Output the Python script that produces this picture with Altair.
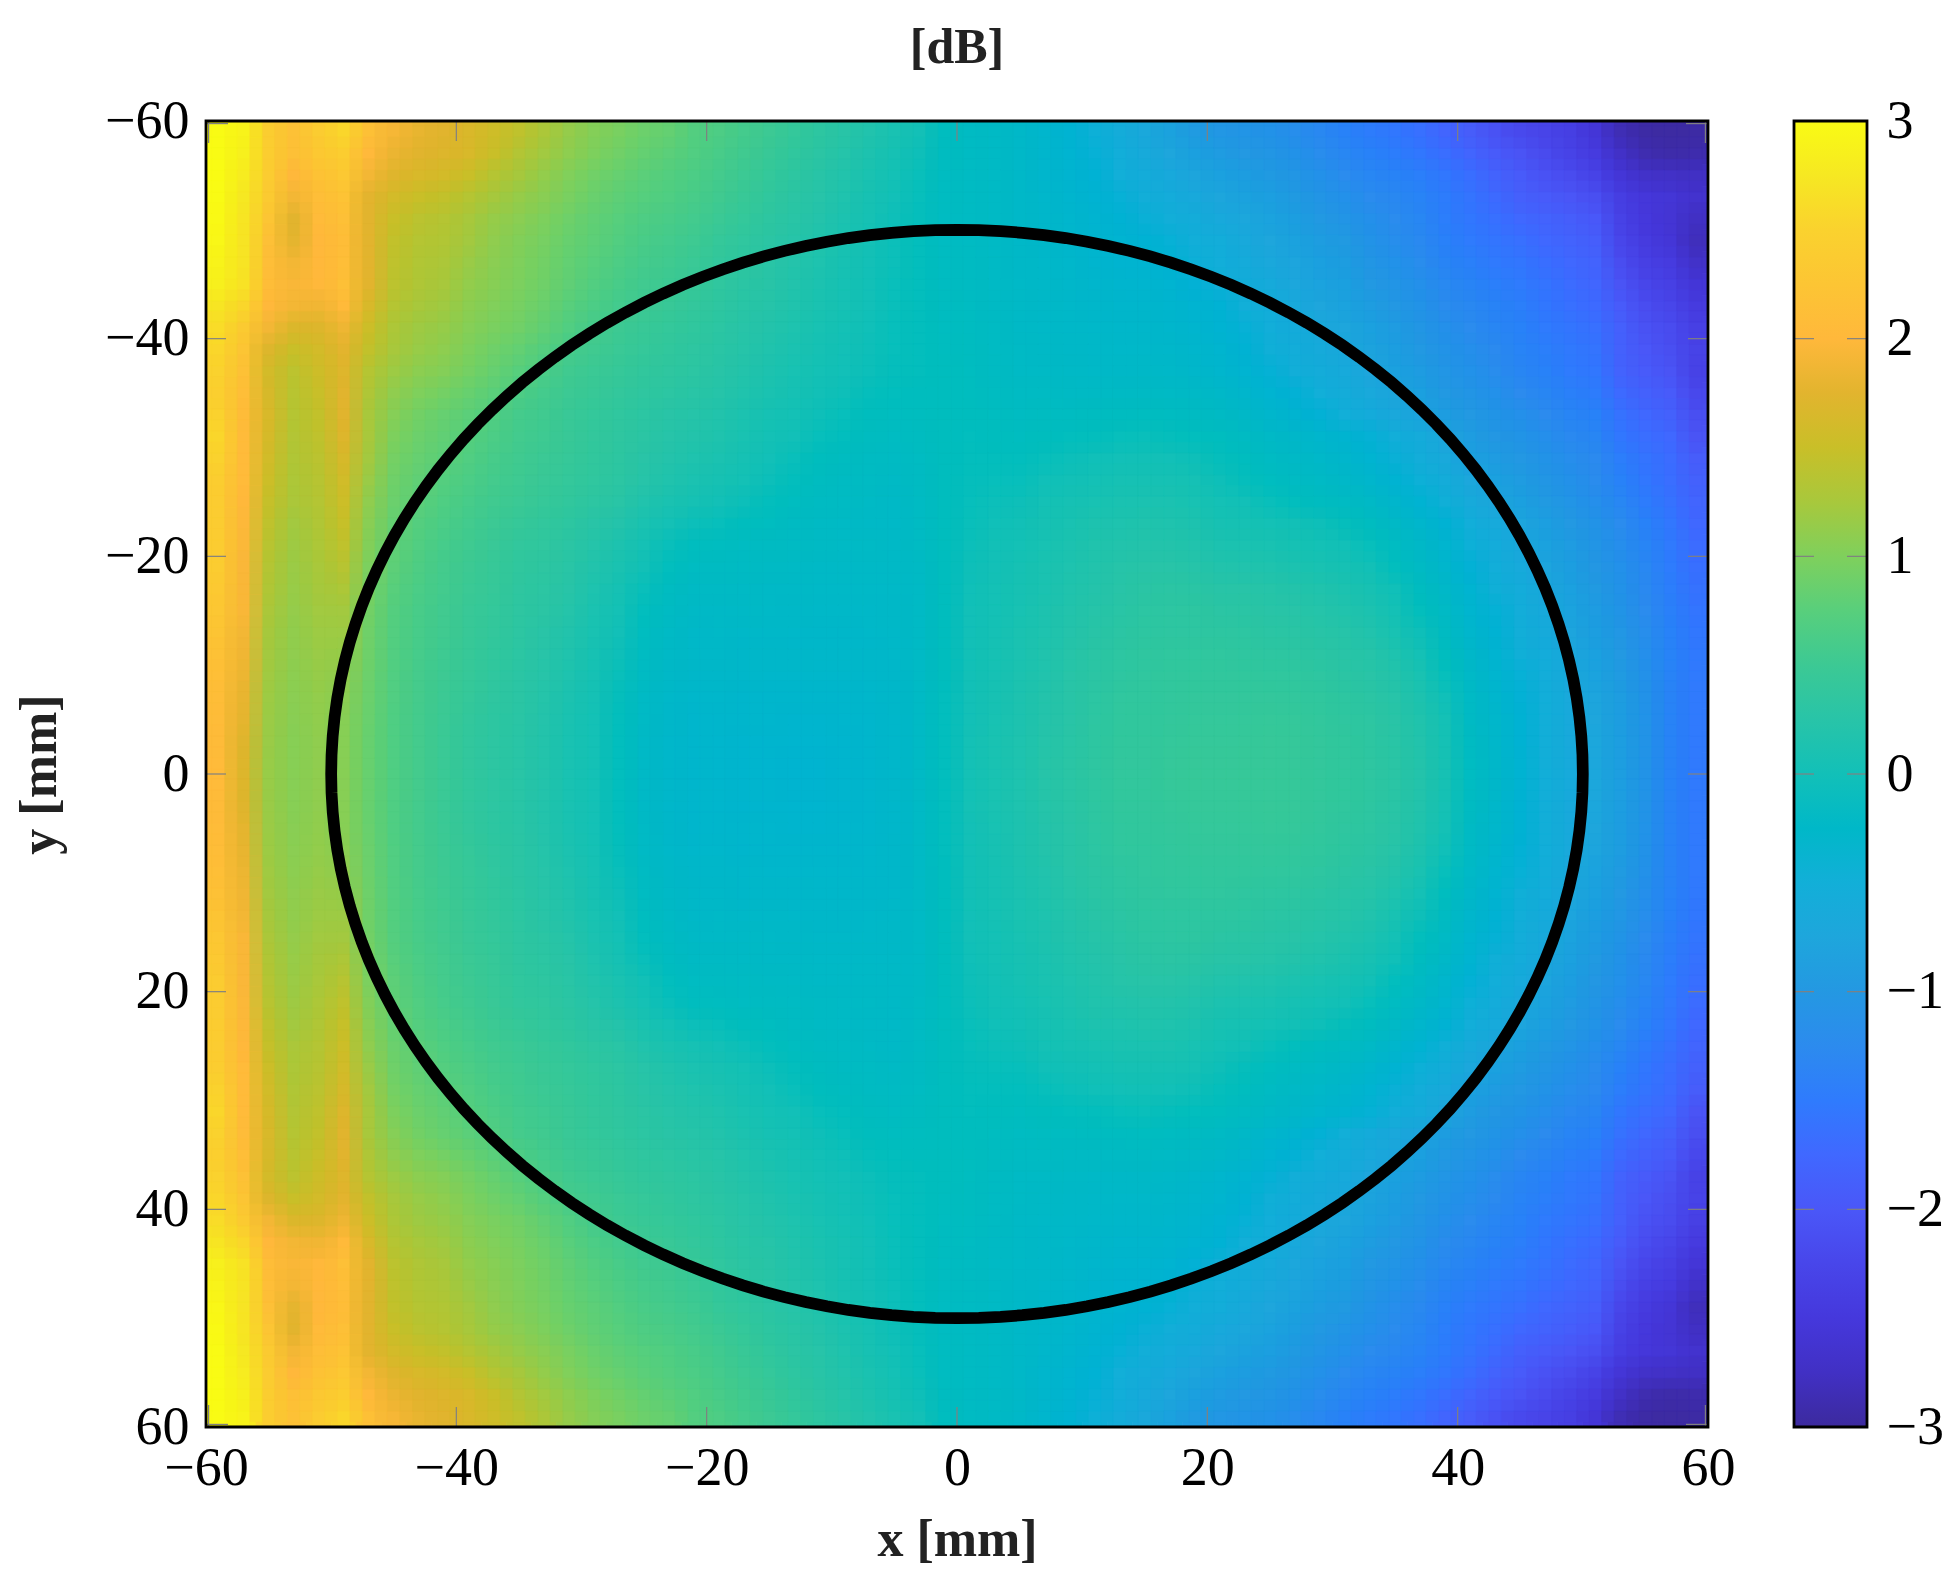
import math
import altair as alt
import pandas as pd

FONT = "Liberation Serif"
W, H = 1502, 1306
CB_W = 73
TICK = 20
GRAY = "#808080"

# colour map
stop_values = [-3, -2.75, -2.5, -2.25, -2, -1.75, -1.5, -1.25, -1, -0.75, -0.5, -0.25, 0, 0.25, 0.5, 0.75, 1, 1.25, 1.5, 1.75, 2, 2.25, 2.5, 2.75, 3]
stop_colors = ["#3c2a9e", "#4130c4", "#4538dc", "#4846ea", "#4a57f8", "#4068ff", "#2f7bfd", "#2c8bee", "#2498e2", "#1ea6dc", "#12afd8", "#00b8c8", "#12c0b8", "#28c4a8", "#3cc994", "#58cf7c", "#7fd05c", "#a8c83c", "#c9bf28", "#e2b42e", "#ffb83b", "#fcc534", "#fad22e", "#f6e822", "#f9fb14"]

# cell edges, mm
cell_mm = 2
x_edges = list(range(-60, 60, cell_mm))
y_edges_top = list(range(-60, 0, cell_mm))

# hundredths of a dB, rows from y = -60 down to y = 0 (the map mirrors about y = 0)
# x from -60 to -40
block_a = [
[300,290,240,218,238,255,216,192,180,174],
[300,285,240,215,231,241,201,183,174,170],
[300,280,238,200,220,230,190,172,165,160],
[300,275,235,190,211,221,176,160,150,145],
[298,272,225,175,205,215,175,150,139,135],
[295,270,215,178,200,210,175,145,135,132],
[290,270,212,190,200,212,175,142,132,128],
[285,268,210,195,200,215,175,140,130,125],
[272,255,200,190,188,203,165,135,125,120],
[262,235,190,168,170,185,153,129,119,114],
[255,225,170,150,160,176,145,125,115,109],
[250,218,160,140,154,171,135,118,108,103],
[245,212,163,137,149,174,130,110,100,93],
[250,208,165,135,145,174,125,104,92,84],
[255,205,162,133,142,170,125,99,88,81],
[250,205,158,131,139,163,122,94,84,77],
[240,205,153,129,136,158,116,90,80,72],
[238,200,147,127,134,153,110,87,77,68],
[238,198,142,122,131,148,106,83,72,64],
[238,197,137,119,129,142,102,80,69,60],
[238,196,134,117,126,136,98,78,67,58],
[232,195,131,115,124,129,95,75,64,57],
[228,195,127,113,121,122,92,72,62,55],
[224,190,124,111,118,118,90,71,61,54],
[218,187,122,110,116,114,89,70,60,52],
[214,184,120,108,114,110,88,69,59,51],
[210,180,118,107,112,107,87,69,59,50],
[208,178,117,106,111,105,86,68,58,49],
[206,172,116,105,110,105,85,68,58,48],
[205,170,115,105,110,105,85,68,58,48],
]
# x from -40 to -20
block_b = [
[166,155,142,128,113,103,96,88,83,71],
[165,150,133,121,109,99,91,83,77,69],
[150,135,124,112,101,91,84,77,71,65],
[135,124,114,106,96,86,79,73,68,62],
[125,114,107,99,89,81,74,67,63,57],
[122,110,102,95,85,78,70,63,58,52],
[116,107,100,92,82,74,66,59,54,48],
[112,105,98,90,80,70,62,55,50,45],
[108,101,95,86,75,65,57,51,46,41],
[104,97,91,81,69,59,51,46,42,38],
[99,90,82,72,60,54,48,43,39,35],
[94,84,74,64,54,49,44,39,36,32],
[85,76,66,58,50,46,41,36,32,28],
[77,69,59,54,47,42,37,32,27,23],
[73,65,57,52,46,41,36,30,24,20],
[69,61,54,49,44,39,34,27,21,16],
[65,58,52,47,42,37,32,24,17,12],
[61,54,49,44,39,33,28,18,11,6],
[57,50,44,40,34,27,21,11,3,-3],
[53,47,40,37,30,22,14,5,-4,-10],
[51,45,38,35,28,19,11,1,-8,-14],
[49,44,36,32,25,15,7,-4,-13,-18],
[47,42,35,30,22,12,3,-8,-17,-22],
[46,41,33,27,19,10,0,-11,-20,-25],
[45,39,32,25,17,8,-2,-14,-22,-25],
[44,37,31,24,15,6,-4,-16,-24,-27],
[43,36,30,22,13,5,-6,-19,-26,-29],
[41,34,29,21,11,4,-7,-20,-27,-30],
[40,33,28,20,10,3,-8,-22,-28,-31],
[40,33,28,20,10,3,-8,-22,-28,-31],
]
# x from -20 to 0
block_c = [
[66,58,50,42,34,26,18,10,2,-10],
[62,54,46,38,30,22,14,6,-2,-12],
[58,50,42,34,26,19,11,3,-4,-13],
[54,46,38,31,24,16,8,0,-5,-13],
[49,42,34,28,21,13,6,-2,-6,-14],
[43,37,30,24,17,10,3,-3,-7,-14],
[40,34,28,21,15,8,2,-3,-7,-13],
[37,31,26,19,13,7,1,-4,-7,-13],
[35,28,23,17,11,6,0,-4,-7,-12],
[32,25,20,15,9,4,-1,-5,-7,-11],
[29,23,17,12,6,2,-2,-5,-7,-10],
[26,20,14,9,4,0,-3,-6,-7,-9],
[23,17,11,6,1,-2,-6,-8,-9,-9],
[19,13,7,3,-2,-5,-9,-11,-10,-9],
[16,10,4,0,-5,-8,-12,-14,-12,-9],
[12,6,0,-4,-9,-12,-15,-17,-14,-9],
[8,3,-3,-7,-12,-15,-17,-19,-15,-9],
[2,-3,-7,-11,-15,-17,-19,-21,-17,-9],
[-5,-9,-11,-15,-18,-20,-21,-23,-17,-9],
[-11,-14,-15,-17,-18,-20,-20,-21,-17,-9],
[-15,-17,-18,-19,-21,-22,-22,-22,-18,-9],
[-18,-20,-21,-21,-23,-23,-23,-23,-19,-9],
[-21,-22,-23,-24,-25,-25,-25,-24,-19,-9],
[-23,-25,-25,-26,-27,-27,-26,-25,-19,-9],
[-25,-27,-27,-27,-28,-28,-27,-26,-20,-9],
[-27,-28,-29,-29,-29,-29,-28,-27,-20,-9],
[-29,-30,-31,-31,-31,-31,-29,-27,-20,-8],
[-31,-31,-32,-33,-33,-32,-30,-28,-20,-8],
[-32,-33,-34,-35,-35,-33,-31,-28,-20,-8],
[-32,-34,-35,-36,-36,-34,-31,-28,-20,-8],
]
# x from 0 to 20
block_d = [
[-16,-20,-25,-32,-40,-48,-58,-70,-82,-95],
[-16,-20,-25,-31,-38,-46,-54,-64,-75,-86],
[-16,-20,-25,-30,-36,-43,-50,-58,-66,-76],
[-16,-20,-25,-29,-34,-40,-46,-52,-59,-66],
[-16,-20,-25,-28,-32,-37,-42,-47,-52,-58],
[-16,-20,-25,-27,-31,-35,-38,-41,-46,-52],
[-15,-19,-24,-26,-29,-33,-36,-38,-42,-48],
[-15,-19,-23,-25,-28,-31,-33,-35,-38,-44],
[-14,-18,-22,-24,-26,-28,-30,-31,-33,-38],
[-13,-17,-21,-23,-25,-26,-28,-28,-30,-34],
[-12,-16,-20,-22,-24,-25,-26,-26,-28,-31],
[-11,-15,-19,-20,-22,-23,-24,-24,-25,-28],
[-10,-13,-16,-17,-18,-18,-18,-18,-20,-22],
[-9,-11,-14,-13,-13,-12,-12,-11,-13,-15],
[-8,-9,-11,-9,-8,-7,-5,-4,-6,-8],
[-7,-7,-8,-5,-3,-1,0,1,0,-2],
[-6,-5,-5,-1,1,4,6,7,7,5],
[-5,-3,-2,3,6,9,11,12,12,9],
[-4,-1,1,6,10,14,15,17,16,14],
[-3,1,4,9,13,17,19,21,20,18],
[-2,2,6,11,15,19,23,25,25,23],
[-1,3,8,12,17,21,25,29,30,29],
[0,4,9,14,19,23,28,32,33,34],
[0,5,11,15,21,26,31,34,35,35],
[1,6,12,17,23,29,33,36,37,37],
[1,7,13,18,25,31,35,37,39,39],
[2,8,14,20,26,32,37,38,40,41],
[2,9,14,21,27,33,38,39,41,42],
[3,10,15,22,28,34,39,40,42,43],
[3,10,15,23,29,35,40,40,43,44],
]
# x from 20 to 40
block_e = [
[-103,-107,-112,-120,-130,-140,-148,-155,-165,-180],
[-94,-99,-104,-112,-122,-132,-140,-147,-155,-168],
[-84,-91,-96,-104,-114,-124,-132,-138,-145,-155],
[-74,-82,-88,-96,-106,-115,-124,-130,-137,-148],
[-66,-73,-81,-89,-98,-107,-116,-124,-132,-146],
[-57,-66,-75,-83,-92,-97,-110,-120,-128,-142],
[-53,-61,-69,-77,-86,-91,-104,-113,-122,-136],
[-49,-56,-63,-72,-81,-86,-98,-107,-116,-129],
[-43,-50,-57,-66,-75,-81,-92,-101,-110,-123],
[-39,-46,-53,-60,-68,-75,-85,-94,-104,-116],
[-35,-42,-49,-56,-63,-70,-80,-89,-98,-110],
[-32,-38,-45,-52,-58,-65,-75,-84,-93,-105],
[-25,-31,-38,-44,-51,-58,-68,-76,-86,-98],
[-18,-24,-31,-37,-44,-50,-60,-69,-78,-91],
[-10,-16,-22,-27,-32,-37,-45,-53,-62,-75],
[-6,-10,-16,-21,-26,-31,-38,-47,-56,-68],
[-2,-6,-11,-16,-20,-25,-31,-39,-48,-58],
[3,0,-4,-8,-12,-16,-22,-30,-39,-49],
[8,6,4,1,-2,-6,-12,-21,-30,-41],
[13,12,10,7,4,0,-5,-14,-24,-35],
[19,18,16,13,10,6,1,-8,-18,-30],
[26,25,23,20,17,13,8,-1,-12,-25],
[31,29,27,25,22,18,13,4,-7,-20],
[34,33,31,29,26,23,18,9,-2,-15],
[37,36,35,33,31,27,23,15,4,-10],
[39,39,38,37,35,31,27,20,10,-5],
[41,41,41,40,38,34,31,24,14,-1],
[42,42,43,42,40,36,33,27,17,3],
[43,43,44,43,41,38,34,28,19,5],
[44,44,44,43,41,38,35,29,20,6],
]
# x from 40 to 60
block_f = [
[-192,-208,-220,-228,-238,-255,-285,-295,-297,-296],
[-180,-195,-205,-218,-230,-245,-272,-288,-292,-290],
[-167,-182,-195,-207,-217,-230,-255,-270,-272,-275],
[-160,-172,-187,-195,-202,-212,-240,-252,-256,-265],
[-155,-165,-175,-183,-190,-198,-232,-250,-258,-275],
[-150,-158,-165,-175,-183,-190,-225,-245,-255,-280],
[-143,-152,-157,-167,-175,-182,-215,-235,-245,-270],
[-136,-145,-150,-160,-170,-178,-205,-225,-235,-255],
[-130,-138,-145,-155,-165,-172,-195,-215,-225,-245],
[-124,-133,-140,-150,-158,-165,-187,-207,-217,-235],
[-118,-127,-137,-145,-153,-160,-185,-200,-212,-230],
[-113,-122,-133,-140,-150,-155,-182,-195,-205,-232],
[-106,-115,-125,-133,-143,-148,-172,-185,-195,-222],
[-99,-108,-116,-125,-135,-140,-162,-175,-185,-212],
[-92,-102,-108,-118,-128,-133,-155,-168,-175,-205],
[-84,-94,-101,-110,-120,-126,-146,-160,-170,-192],
[-73,-84,-94,-104,-114,-123,-140,-155,-168,-185],
[-64,-75,-86,-97,-107,-117,-132,-148,-162,-180],
[-54,-65,-77,-88,-99,-110,-124,-140,-156,-175],
[-48,-59,-70,-82,-94,-106,-119,-135,-152,-170],
[-44,-54,-65,-77,-89,-102,-115,-131,-149,-166],
[-38,-49,-59,-71,-84,-97,-112,-128,-146,-162],
[-35,-45,-55,-67,-81,-93,-108,-124,-143,-158],
[-31,-41,-52,-63,-77,-89,-103,-120,-140,-155],
[-27,-38,-49,-59,-73,-85,-99,-117,-139,-153],
[-23,-35,-46,-56,-70,-81,-95,-114,-138,-152],
[-20,-32,-44,-54,-68,-77,-92,-112,-138,-152],
[-18,-29,-42,-52,-67,-75,-91,-111,-138,-152],
[-15,-28,-41,-52,-66,-73,-90,-110,-138,-152],
[-14,-27,-40,-52,-65,-72,-90,-110,-138,-152],
]

x_ticks = [-60, -40, -20, 0, 20, 40, 60]
inner_ticks = [-40, -20, 0, 20, 40]
cb_ticks = [-3, -2, -1, 0, 1, 2, 3]
cb_inner = [-2, -1, 0, 1, 2]

records = []
for i, ye in enumerate(y_edges_top):
    row = block_a[i] + block_b[i] + block_c[i] + block_d[i] + block_e[i] + block_f[i]
    assert len(row) == len(x_edges)
    for xe, v in zip(x_edges, row):
        records.append(dict(x0=xe, y0=ye, v=v / 100))
        records.append(dict(x0=xe, y0=-ye - cell_mm, v=v / 100))
cells = pd.DataFrame(records)

angles = list(range(0, 361, 2))
circle = pd.DataFrame({
    "a": angles,
    "x": [50 * math.cos(math.radians(a)) for a in angles],
    "y": [50 * math.sin(math.radians(a)) for a in angles],
})
inner_df = pd.DataFrame({"t": inner_ticks})
cb_tick_df = pd.DataFrame({"t": cb_inner})
frame_df = pd.DataFrame({"f": [0]})

color_scale = alt.Scale(domain=stop_values, range=stop_colors, clamp=True)
x_scale = alt.Scale(domain=[-60, 60], nice=False, zero=False)
y_scale = alt.Scale(domain=[-60, 60], nice=False, zero=False, reverse=True)
cb_scale = alt.Scale(domain=[-3, 3], nice=False, zero=False)

axis_common = dict(domain=False, ticks=False, grid=False, labelFont=FONT, labelFontSize=54, labelColor="black",
                   labelFlush=False, labelOverlap=False, labelBound=False,
                   titleFont=FONT, titleFontSize=52, titleFontWeight="bold", titleColor="#222222", values=x_ticks)
x_axis = alt.Axis(title="x [mm]", labelPadding=14, titlePadding=19, **axis_common)
y_axis = alt.Axis(title="y [mm]", labelPadding=17, titlePadding=38, **axis_common)

def heat_layer(dx, dy, opacity):
    """One drawing of the cells, nudged by (dx, dy) mm; stacked drawings blend the cell edges as shaded rendering does."""
    return alt.Chart(cells).transform_calculate(
        xa=f"datum.x0 + {dx}", xb=f"datum.x0 + {cell_mm} + {dx}",
        ya=f"datum.y0 + {dy}", yb=f"datum.y0 + {cell_mm} + {dy}",
    ).mark_rect(opacity=opacity, clip=True, strokeWidth=0.6).encode(
        x=alt.X("xa:Q", scale=x_scale, axis=x_axis),
        x2="xb:Q",
        y=alt.Y("ya:Q", scale=y_scale, axis=y_axis),
        y2="yb:Q",
        color=alt.Color("v:Q", scale=color_scale, legend=None),
        stroke=alt.Stroke("v:Q", scale=color_scale, legend=None),
    )

heat = [
    heat_layer(0, 0, 1),
    heat_layer(-0.5, -0.5, 1),
    heat_layer(0.5, -0.5, 1 / 2),
    heat_layer(-0.5, 0.5, 1 / 3),
    heat_layer(0.5, 0.5, 1 / 4),
]
ring = alt.Chart(circle).mark_line(color="black", strokeWidth=11.7).encode(
    x=alt.X("x:Q", scale=x_scale), y=alt.Y("y:Q", scale=y_scale), order="a:Q")

tick_style = dict(color=GRAY, strokeWidth=1.2)
def hrule(y, a, b):
    return alt.Chart(frame_df).mark_rule(**tick_style).encode(y=alt.value(y), x=alt.value(a), x2=alt.value(b))
def vrule(x, a, b):
    return alt.Chart(frame_df).mark_rule(**tick_style).encode(x=alt.value(x), y=alt.value(a), y2=alt.value(b))

tick_left = alt.Chart(inner_df).mark_rule(**tick_style).encode(y=alt.Y("t:Q", scale=y_scale), x=alt.value(0), x2=alt.value(TICK))
tick_right = alt.Chart(inner_df).mark_rule(**tick_style).encode(y=alt.Y("t:Q", scale=y_scale), x=alt.value(W), x2=alt.value(W - TICK))
tick_top = alt.Chart(inner_df).mark_rule(**tick_style).encode(x=alt.X("t:Q", scale=x_scale), y=alt.value(0), y2=alt.value(TICK))
tick_bottom = alt.Chart(inner_df).mark_rule(**tick_style).encode(x=alt.X("t:Q", scale=x_scale), y=alt.value(H), y2=alt.value(H - TICK))
corner_ticks = [
    hrule(2.6, 1, TICK + 2), vrule(2.6, 1, TICK + 2),
    hrule(2.6, W - 1, W - TICK - 2), vrule(W - 2.6, 1, TICK + 2),
    hrule(H - 2.6, 1, TICK + 2), vrule(2.6, H - 1, H - TICK - 2),
    hrule(H - 2.6, W - 1, W - TICK - 2), vrule(W - 2.6, H - 1, H - TICK - 2),
]

frame = alt.Chart(frame_df).mark_rect(fill=None, stroke="black", strokeWidth=2.8).encode(
    x=alt.value(0), x2=alt.value(W), y=alt.value(0), y2=alt.value(H))

main = alt.layer(*heat, ring, tick_left, tick_right, tick_top, tick_bottom, *corner_ticks, frame).properties(
    width=W, height=H,
    title=alt.TitleParams("[dB]", font=FONT, fontSize=50, fontWeight="bold", color="#222222", offset=21, anchor="middle"),
)

cb_grad = alt.Gradient(gradient="linear", x1=0, y1=1, x2=0, y2=0,
                       stops=[alt.GradientStop(offset=(v + 3) / 6, color=c) for v, c in zip(stop_values, stop_colors)])
cb_rect = alt.Chart(frame_df).mark_rect(fill=cb_grad).encode(
    x=alt.value(0), x2=alt.value(CB_W), y=alt.value(0), y2=alt.value(H))
cb_tick_l = alt.Chart(cb_tick_df).mark_rule(**tick_style).encode(
    y=alt.Y("t:Q", scale=cb_scale, axis=alt.Axis(orient="right", title=None, values=cb_ticks, domain=False, ticks=False, grid=False, format="d",
                                                 labelFont=FONT, labelFontSize=54, labelColor="black", labelPadding=19, labelFlush=False, labelOverlap=False, labelBound=False)),
    x=alt.value(0), x2=alt.value(TICK))
cb_tick_r = alt.Chart(cb_tick_df).mark_rule(**tick_style).encode(y=alt.Y("t:Q", scale=cb_scale), x=alt.value(CB_W), x2=alt.value(CB_W - TICK))
cb_frame = alt.Chart(frame_df).mark_rect(fill=None, stroke="black", strokeWidth=2.8).encode(
    x=alt.value(0), x2=alt.value(CB_W), y=alt.value(0), y2=alt.value(H))
bar = alt.layer(cb_rect, cb_tick_l, cb_tick_r, cb_frame).properties(width=CB_W, height=H)

chart = alt.hconcat(main, bar, spacing=86, bounds="flush").resolve_scale(color="independent", y="independent").properties(
    padding={"left": 5, "top": 15, "right": 0, "bottom": 0}, background="white").configure_view(stroke=None)

chart.save("out.html", embed_options={"renderer": "svg", "actions": False})
